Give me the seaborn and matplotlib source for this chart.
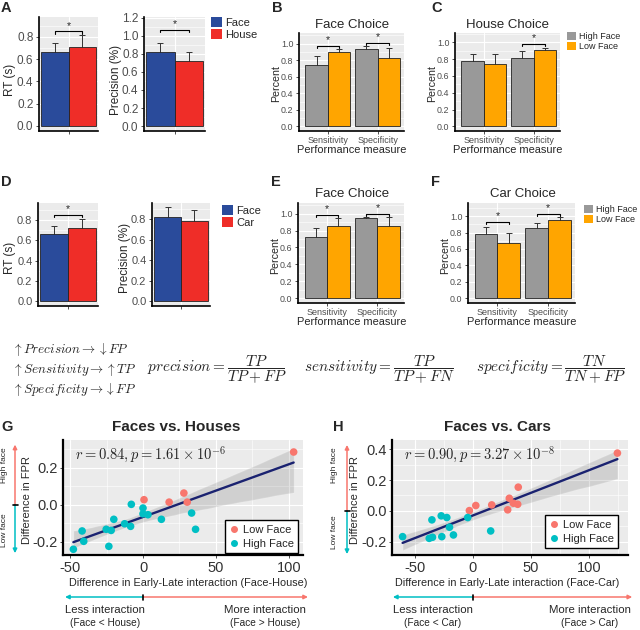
import numpy as np
import pandas as pd
import matplotlib
matplotlib.use("Agg")
import matplotlib.pyplot as plt
import matplotlib.transforms as mtrans
from matplotlib.patches import Patch, FancyArrowPatch
from matplotlib.lines import Line2D
from matplotlib.ticker import MultipleLocator
import seaborn as sns

sns.set_theme(style="darkgrid")
plt.rcParams['font.family'] = ['Liberation Sans', 'DejaVu Sans']
plt.rcParams['mathtext.fontset'] = 'cm'
plt.rcParams['axes.unicode_minus'] = False

# ---------------- data ----------------
stim_A = ["Face", "House"]
rt_A = [0.667, 0.711]
rt_A_err = [0.080, 0.109]
prec_A = [0.824, 0.725]
prec_A_err = [0.103, 0.099]

stim_D = ["Face", "Car"]
rt_D = [0.666, 0.717]
rt_D_err = [0.076, 0.089]
prec_D = [0.822, 0.778]
prec_D_err = [0.096, 0.108]

measures = ["Sensitivity", "Specificity"]
groups = ["High Face", "Low Face"]
B_high = [0.740, 0.936]; B_high_err = [0.116, 0.040]
B_low = [0.900, 0.824]; B_low_err = [0.036, 0.124]
C_high = [0.776, 0.815]; C_high_err = [0.086, 0.079]
C_low = [0.744, 0.902]; C_low_err = [0.118, 0.031]
E_high = [0.722, 0.945]; E_high_err = [0.109, 0.015]
E_low = [0.855, 0.855]; E_low_err = [0.094, 0.102]
F_high = [0.780, 0.852]; F_high_err = [0.092, 0.068]
F_low = [0.676, 0.956]; F_low_err = [0.116, 0.032]

G_low_x = [103.2, 0.7, 17.9, 28.0, 30.3]
G_low_y = [0.285, 0.027, 0.014, 0.063, 0.014]
G_high_x = [-8.0, 0.0, 0.0, 3.4, -20.0, 12.6, -12.6, -8.5, -25.2, -21.8,
            -41.7, 33.3, 36.0, -40.6, -23.4, -47.7]
G_high_y = [0.002, -0.018, -0.049, -0.054, -0.079, -0.079, -0.103, -0.117,
            -0.133, -0.139, -0.142, -0.045, -0.133, -0.198, -0.225, -0.241]

H_low_x = [124.3, 39.1, 31.4, 34.9, 38.6, 30.0, 16.3, 2.6, -2.9]
H_low_y = [0.375, 0.154, 0.082, 0.050, 0.043, 0.007, 0.039, 0.035, 0.002]
H_high_x = [-4.3, -27.1, -22.3, -35.1, -20.0, -16.6, -26.6, -34.6, -37.4,
            -60.3, 15.4]
H_high_y = [-0.043, -0.032, -0.043, -0.058, -0.106, -0.156, -0.167, -0.171,
            -0.178, -0.167, -0.130]

# ---------------- styles ----------------
W, H = 640, 630
fig = plt.figure(figsize=(6.4, 6.3), dpi=100)
fig.patch.set_facecolor('white')

BLUE, RED = '#2A4B9B', '#EF2D28'
GRAY, ORANGE = '#999999', '#FFA500'
SALMON, CYAN = '#F8766D', '#00BFC4'
NAVY = '#1A2270'
TXT = '#4D4D4D'


def px_axes(l, t, r, b):
    return fig.add_axes([l / W, 1 - b / H, (r - l) / W, (b - t) / H])


def ftext(x, y, s, **kw):
    kw.setdefault('ha', 'center')
    kw.setdefault('va', 'center')
    return fig.text(x / W, 1 - y / H, s, **kw)


def style_gg(ax, lab_size, spine_lw=1.2):
    ax.set_facecolor('#EBEBEB')
    ax.set_axisbelow(True)
    ax.grid(True, which='major', color='white', linewidth=0.8)
    ax.grid(True, which='minor', color='white', linewidth=0.4)
    for s in ['top', 'right']:
        ax.spines[s].set_visible(False)
    for s in ['left', 'bottom']:
        ax.spines[s].set_visible(True)
        ax.spines[s].set_color('black')
        ax.spines[s].set_linewidth(spine_lw)
    ax.tick_params(axis='both', which='major', color='#333333', labelcolor=TXT,
                   labelsize=lab_size, length=2.5, width=0.6, pad=1.5,
                   bottom=True, left=True)
    ax.tick_params(which='minor', length=0)
    ax.set_xlabel('')
    ax.set_ylabel('')


def bar_panel(ax, cats, levels, vals, errs, palette, ylim, tick_size,
              sig=(), xlim=None, xticklabels=True):
    rows = []
    for li, lev in enumerate(levels):
        for ci, c in enumerate(cats):
            rows.append(dict(cat=c, grp=lev, val=vals[li][ci], err=errs[li][ci]))
    df = pd.DataFrame(rows)
    sns.barplot(data=df, x='cat', y='val', hue='grp', order=cats,
                hue_order=levels, palette=palette, saturation=1,
                errorbar=None, width=0.9, edgecolor='#222222', linewidth=0.6,
                legend=False, zorder=3, ax=ax)
    centers = {}
    for p in ax.patches:
        cx = p.get_x() + p.get_width() / 2
        h = p.get_height()
        ci = int(round(cx))
        sub = df[(df['cat'] == cats[ci]) & (np.isclose(df['val'], h))]
        if len(sub):
            e = sub['err'].iloc[0]
            ax.errorbar(cx, h, yerr=e, fmt='none', ecolor='#333333',
                        elinewidth=0.7, capsize=2.2, capthick=0.7, zorder=2)
        centers.setdefault(ci, []).append(cx)
    style_gg(ax, tick_size)
    ax.set_ylim(*ylim)
    ax.yaxis.set_major_locator(MultipleLocator(0.2))
    ax.yaxis.set_minor_locator(MultipleLocator(0.1))
    ax.yaxis.set_major_formatter(matplotlib.ticker.FormatStrFormatter('%.1f'))
    if xlim is not None:
        ax.set_xlim(*xlim)
    if not xticklabels:
        ax.set_xticks([0])
        ax.set_xticklabels([''])
    else:
        ax.tick_params(axis='x', labelsize=6.5, pad=1)
    span = ylim[1] - ylim[0]
    for ci, yb in sig:
        x1, x2 = min(centers[ci]), max(centers[ci])
        d = 0.02 * span
        ax.plot([x1, x1, x2, x2], [yb - d, yb, yb, yb - d], color='black',
                lw=0.8, zorder=4, clip_on=False)
        ax.text((x1 + x2) / 2, yb + 0.005 * span, '*', ha='center',
                va='bottom', fontsize=7.5, zorder=4)


XL_A = (-0.49, 0.49)
XL_B = (-0.58, 1.53)

# ---------------- Row 1 ----------------
axA1 = px_axes(39, 17, 98, 131)
bar_panel(axA1, ['x'], stim_A, [[rt_A[0]], [rt_A[1]]],
          [[rt_A_err[0]], [rt_A_err[1]]], [BLUE, RED], (-0.045, 0.978), 8.5,
          sig=[(0, 0.85)], xlim=XL_A, xticklabels=False)
axA2 = px_axes(144, 17, 205, 131)
bar_panel(axA2, ['x'], stim_A, [[prec_A[0]], [prec_A[1]]],
          [[prec_A_err[0]], [prec_A_err[1]]], [BLUE, RED], (-0.055, 1.21), 8.5,
          sig=[(0, 1.07)], xlim=XL_A, xticklabels=False)
axB = px_axes(299, 33, 404, 131)
bar_panel(axB, measures, groups, [B_high, B_low], [B_high_err, B_low_err],
          [GRAY, ORANGE], (-0.056, 1.128), 6.4,
          sig=[(0, 0.976), (1, 1.008)], xlim=XL_B)
axC = px_axes(455, 33, 560, 131)
bar_panel(axC, measures, groups, [C_high, C_low], [C_high_err, C_low_err],
          [GRAY, ORANGE], (-0.055, 1.11), 6.4,
          sig=[(1, 0.984)], xlim=XL_B)

# ---------------- Row 2 ----------------
axD1 = px_axes(38, 203, 98, 306)
bar_panel(axD1, ['x'], stim_D, [[rt_D[0]], [rt_D[1]]],
          [[rt_D_err[0]], [rt_D_err[1]]], [BLUE, RED], (-0.045, 0.966), 8,
          sig=[(0, 0.848)], xlim=XL_A, xticklabels=False)
axD2 = px_axes(152, 203, 210, 306)
bar_panel(axD2, ['x'], stim_D, [[prec_D[0]], [prec_D[1]]],
          [[prec_D_err[0]], [prec_D_err[1]]], [BLUE, RED], (-0.045, 0.957), 8,
          xlim=XL_A, xticklabels=False)
axE = px_axes(298, 203, 404, 303)
bar_panel(axE, measures, groups, [E_high, E_low], [E_high_err, E_low_err],
          [GRAY, ORANGE], (-0.056, 1.125), 6.4,
          sig=[(0, 0.984), (1, 1.0)], xlim=XL_B)
axF = px_axes(468, 203, 575, 303)
bar_panel(axF, measures, groups, [F_high, F_low], [F_high_err, F_low_err],
          [GRAY, ORANGE], (-0.058, 1.16), 6.4,
          sig=[(0, 0.932), (1, 1.03)], xlim=XL_B)

# panel letters
for (x, y, s) in [(6, 8, 'A'), (277, 8, 'B'), (437, 8, 'C'),
                  (6, 182, 'D'), (276, 182, 'E'), (436, 182, 'F'),
                  (7, 427, 'G'), (338, 427, 'H')]:
    ftext(x, y, s, fontsize=10.5, fontweight='bold')

ftext(10, 80, 'RT (s)', rotation=90, fontsize=8.5)
ftext(116, 80, 'Precision (%)', rotation=90, fontsize=8.5)
ftext(276, 83, 'Percent', rotation=90, fontsize=7.7)
ftext(432, 83, 'Percent', rotation=90, fontsize=7.7)
ftext(10, 258, 'RT (s)', rotation=90, fontsize=8.5)
ftext(125, 258, 'Precision (%)', rotation=90, fontsize=8.5)
ftext(275, 256, 'Percent', rotation=90, fontsize=7.7)
ftext(445, 256, 'Percent', rotation=90, fontsize=7.7)

ftext(352, 25, 'Face Choice', fontsize=9.5)
ftext(508, 25, 'House Choice', fontsize=9.5)
ftext(352, 194, 'Face Choice', fontsize=9.5)
ftext(523, 194, 'Car Choice', fontsize=9.5)

ftext(352, 150, 'Performance measure', fontsize=7.9)
ftext(508, 150, 'Performance measure', fontsize=7.9)
ftext(352, 322, 'Performance measure', fontsize=7.9)
ftext(522, 322, 'Performance measure', fontsize=7.9)


def patch_legend(x, y, labels, colors, size):
    hs = [Patch(facecolor=c, edgecolor='none') for c in colors]
    fig.legend(hs, labels, loc='upper left', bbox_to_anchor=(x / W, 1 - y / H),
               frameon=False, fontsize=size, handlelength=1.0,
               handleheight=1.0, labelspacing=0.1, handletextpad=0.3,
               borderpad=0, borderaxespad=0)


patch_legend(211, 17, stim_A, [BLUE, RED], 8)
patch_legend(567, 32, groups, [GRAY, ORANGE], 6.5)
patch_legend(222, 205, stim_D, [BLUE, RED], 8)
patch_legend(584, 205, groups, [GRAY, ORANGE], 6.5)

# ---------------- equations ----------------
ftext(12, 350, r'$\uparrow Precision \rightarrow\downarrow FP$', fontsize=9.5, ha='left')
ftext(12, 370, r'$\uparrow Sensitivity \rightarrow\uparrow TP$', fontsize=9.5, ha='left')
ftext(12, 390, r'$\uparrow Specificity \rightarrow\downarrow FP$', fontsize=9.5, ha='left')
ftext(147, 370, r'$precision = \dfrac{TP}{TP+FP}$', fontsize=11, ha='left')
ftext(304, 370, r'$sensitivity = \dfrac{TP}{TP+FN}$', fontsize=11, ha='left')
ftext(476, 370, r'$specificity = \dfrac{TN}{TN+FP}$', fontsize=11, ha='left')


# ---------------- scatter panels ----------------
def scatter_panel(ax, lx, ly, hx, hy, xlim, ylim, rtext, leg_anchor,
                  comp, title, title_x, xlab_x, ylab_x, arrow_x, hx_ends,
                  tick_y, lab_left_x, lab_right_x):
    x_all = np.array(lx + hx)
    y_all = np.array(ly + hy)
    grp = ['Low Face'] * len(lx) + ['High Face'] * len(hx)
    df = pd.DataFrame(dict(x=x_all, y=y_all, grp=grp))
    sns.regplot(data=df, x='x', y='y', scatter=False, color='#3A3A3A',
                ci=95, seed=1, line_kws=dict(lw=0), ax=ax)
    sns.regplot(data=df, x='x', y='y', scatter=False, color=NAVY, ci=None,
                line_kws=dict(lw=1.7), ax=ax)
    sns.scatterplot(data=df, x='x', y='y', hue='grp',
                    hue_order=['Low Face', 'High Face'],
                    palette=[SALMON, CYAN], s=30, edgecolor='none',
                    legend=False, zorder=5, ax=ax)
    style_gg(ax, 10.5, spine_lw=1.6)
    ax.tick_params(labelcolor='#333333')
    ax.set_xlim(*xlim)
    ax.set_ylim(*ylim)
    ax.xaxis.set_major_locator(MultipleLocator(50))
    ax.xaxis.set_minor_locator(MultipleLocator(25))
    ax.yaxis.set_major_locator(MultipleLocator(0.2))
    ax.yaxis.set_minor_locator(MultipleLocator(0.1))
    ax.yaxis.set_major_formatter(matplotlib.ticker.FormatStrFormatter('%.1f'))
    ax.text(0.05, 0.87, rtext, transform=ax.transAxes, fontsize=10.5,
            ha='left', va='center')
    hs = [Line2D([], [], marker='o', ls='none', color=SALMON, markersize=4),
          Line2D([], [], marker='o', ls='none', color=CYAN, markersize=4)]
    leg = ax.legend(hs, ['Low Face', 'High Face'], loc='lower right',
                    bbox_to_anchor=leg_anchor, frameon=True, fancybox=False,
                    fontsize=8, handlelength=0.8, handletextpad=0.4,
                    borderaxespad=0, borderpad=0.4, labelspacing=0.35)
    leg.get_frame().set_edgecolor('black')
    leg.get_frame().set_linewidth(1.0)
    leg.get_frame().set_facecolor('white')
    leg.get_frame().set_alpha(1)

    ftext(title_x, 427, title, fontsize=11, fontweight='bold')
    ftext(xlab_x, 583, f'Difference in Early-Late interaction ({comp})',
          fontsize=7.8)
    ftext(ylab_x, 500, 'Difference in FPR', rotation=90, fontsize=8)

    # horizontal arrows (x in data units, y in figure coordinates)
    tr = mtrans.blended_transform_factory(ax.transData, fig.transFigure)
    ya = 1 - 597 / H
    fig.add_artist(FancyArrowPatch((0, ya), (hx_ends[0], ya), transform=tr,
                                   arrowstyle='-|>', mutation_scale=6,
                                   color=CYAN, lw=1.1, shrinkA=0, shrinkB=0))
    fig.add_artist(FancyArrowPatch((0, ya), (hx_ends[1], ya), transform=tr,
                                   arrowstyle='-|>', mutation_scale=6,
                                   color=SALMON, lw=1.1, shrinkA=0, shrinkB=0))
    fig.add_artist(Line2D([0, 0], [ya - 2.5 / H, ya + 2.5 / H], transform=tr,
                          color='black', lw=1.2))
    c1, c2 = comp.split('-')
    ftext(lab_left_x, 610, 'Less interaction', fontsize=8.2)
    ftext(lab_left_x, 623, f'({c1} < {c2})', fontsize=7.3)
    ftext(lab_right_x, 610, 'More interaction', fontsize=8.2)
    ftext(lab_right_x, 623, f'({c1} > {c2})', fontsize=7.3)

    # vertical arrows (x in figure coords, y in data units)
    trv = mtrans.blended_transform_factory(fig.transFigure, ax.transData)
    xa = arrow_x / W
    fig.add_artist(FancyArrowPatch((xa, 0), (xa, tick_y[1]), transform=trv,
                                   arrowstyle='-|>', mutation_scale=6,
                                   color=SALMON, lw=1.1, shrinkA=0, shrinkB=0))
    fig.add_artist(FancyArrowPatch((xa, 0), (xa, tick_y[0]), transform=trv,
                                   arrowstyle='-|>', mutation_scale=6,
                                   color=CYAN, lw=1.1, shrinkA=0, shrinkB=0))
    fig.add_artist(Line2D([xa - 2.5 / W, xa + 2.5 / W], [0, 0], transform=trv,
                          color='black', lw=1.2))
    return ax


axG = px_axes(63, 440, 303, 555)
scatter_panel(axG, G_low_x, G_low_y, G_high_x, G_high_y, (-54.8, 109.6),
              (-0.272, 0.35), r'$r = 0.84, p = 1.61 \times 10^{-6}$',
              (0.979, 0.017), 'Face-House', 'Faces vs. Houses', 176, 188,
              27, 15, (-53.4, 113), (-0.262, 0.325), 105, 265)
ftext(5, 465, 'High face', rotation=90, fontsize=6)
ftext(5, 530, 'Low face', rotation=90, fontsize=6)

axH = px_axes(392, 440, 628, 555)
scatter_panel(axH, H_low_x, H_low_y, H_high_x, H_high_y, (-69.4, 133.4),
              (-0.286, 0.46), r'$r = 0.90, p = 3.27 \times 10^{-8}$',
              (0.958, 0.06), 'Face-Car', 'Faces vs. Cars', 497, 507,
              355, 347, (-68.6, 137), (-0.28, 0.428), 433, 590)
ftext(335, 465, 'High face', rotation=90, fontsize=6)
ftext(335, 532, 'Low face', rotation=90, fontsize=6)

fig.savefig('out.png', dpi=100, facecolor='white')
